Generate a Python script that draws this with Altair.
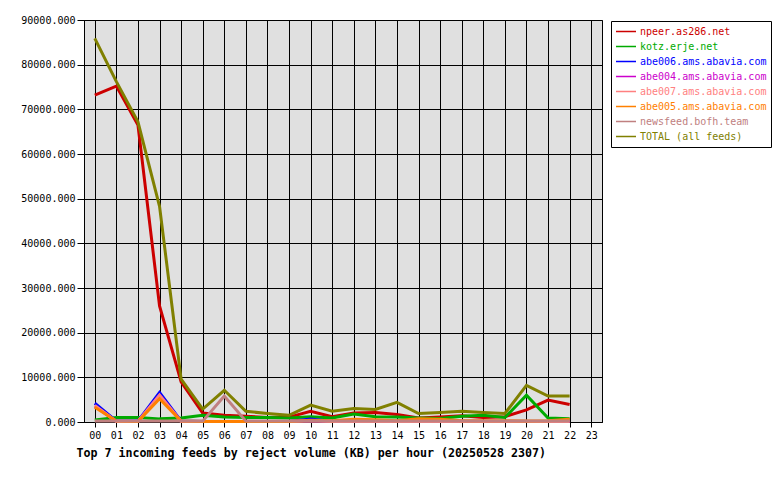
import altair as alt
import pandas as pd

hours = [f"{h:02d}" for h in range(24)]
data_hours = hours[:23]

series = [
    "npeer.as286.net",
    "kotz.erje.net",
    "abe006.ams.abavia.com",
    "abe004.ams.abavia.com",
    "abe007.ams.abavia.com",
    "abe005.ams.abavia.com",
    "newsfeed.bofh.team",
    "TOTAL (all feeds)",
]
colors = ["#cc0000", "#00aa00", "#0000ff", "#cc00cc", "#ff8080", "#ff8000", "#c08080", "#808000"]

npeer = [73200, 75200, 66500, 26000, 9000, 2000, 1500, 1300, 1000, 1100, 2400, 1200,
         2000, 2100, 1700, 900, 1100, 1400, 1000, 1200, 2700, 4900, 3900]
kotz = [450, 1000, 1000, 700, 900, 1500, 1100, 1000, 1000, 900, 1200, 900,
        1800, 1200, 1100, 900, 800, 1300, 1500, 1000, 6000, 900, 700]
abe006 = [4200, 200, 200, 6600, 200, 100, 100, 100, 100, 100, 650, 100,
          100, 100, 100, 100, 100, 100, 100, 100, 100, 100, 100]
abe004 = [3600, 100, 100, 5900, 100, 100, 100, 100, 100, 100, 300, 100,
          100, 100, 100, 100, 100, 100, 100, 100, 100, 100, 100]
abe007 = [3700, 100, 100, 6000, 100, 100, 100, 100, 100, 100, 300, 100,
          100, 100, 100, 100, 100, 100, 100, 100, 100, 100, 100]
abe005 = [3300, 200, 100, 5200, 200, 100, 100, 100, 100, 100, 400, 300,
          600, 500, 300, 700, 600, 300, 300, 300, 200, 300, 600]
newsfeed = [200, 200, 200, 200, 200, 200, 5800, 200, 200, 200, 200, 200,
            200, 200, 200, 200, 200, 200, 200, 200, 200, 200, 200]
total = [85900, 76200, 67200, 48300, 9600, 2900, 7100, 2400, 1900, 1500, 3800, 2400,
         3000, 2800, 4400, 1900, 2100, 2400, 2100, 1900, 8200, 5800, 5800]

all_values = [npeer, kotz, abe006, abe004, abe007, abe005, newsfeed, total]

rows = []
for name, vals in zip(series, all_values):
    for h, v in zip(data_hours, vals):
        rows.append({"hour": h, "feed": name, "kb": v})
df = pd.DataFrame(rows)

font = "DejaVu Sans Mono"
color_expr = "{" + ",".join(f"'{s}':'{c}'" for s, c in zip(series, colors)) + "}[datum.label]"

chart = (
    alt.Chart(df)
    .mark_line(strokeWidth=3)
    .encode(
        x=alt.X(
            "hour:O",
            scale=alt.Scale(domain=hours, padding=0.5),
            axis=alt.Axis(
                title="Top 7 incoming feeds by reject volume (KB) per hour (20250528 2307)",
                titleFont=font,
                titleFontSize=11.65,
                titleFontWeight="bold",
                titleColor="black",
                titleAlign="left",
                titleAnchor="start",
                titleX=-8,
                titleY=34,
                titleBaseline="alphabetic",
                labelAngle=0,
                labelFont=font,
                labelFontSize=10,
                labelColor="black",
                labelPadding=3,
                tickSize=5,
                tickColor="black",
                domainColor="black",
                grid=True,
                gridColor="black",
                gridOpacity=1,
                gridWidth=1,
            ),
        ),
        y=alt.Y(
            "kb:Q",
            scale=alt.Scale(domain=[0, 90000], nice=False),
            axis=alt.Axis(
                title=None,
                values=list(range(0, 90001, 10000)),
                format=".3f",
                labelFont=font,
                labelFontSize=10,
                labelColor="black",
                labelPadding=2,
                tickSize=7,
                tickColor="black",
                domainColor="black",
                grid=True,
                gridColor="black",
                gridOpacity=1,
                gridWidth=1,
            ),
        ),
        color=alt.Color(
            "feed:N",
            sort=series,
            scale=alt.Scale(domain=series, range=colors),
            legend=alt.Legend(
                title=None,
                orient="none",
                legendX=527,
                legendY=1,
                symbolType="stroke",
                symbolSize=400,
                symbolStrokeWidth=1.5,
                labelFont=font,
                labelFontSize=10,
                labelColor=alt.ExprRef(color_expr),
                labelOffset=3,
                labelLimit=200,
                clipHeight=13,
                rowPadding=2,
                padding=4,
                strokeColor="black",
                fillColor="white",
            ),
        ),
    )
    .properties(
        width=518,
        height=402,
        autosize="none",
        padding={"left": 76, "top": 12, "right": 170, "bottom": 50},
        background="white",
    )
    .configure_view(fill="#e0e0e0", stroke="black", strokeWidth=1)
)

chart.save("out.html", embed_options={"renderer": "svg", "actions": False})
